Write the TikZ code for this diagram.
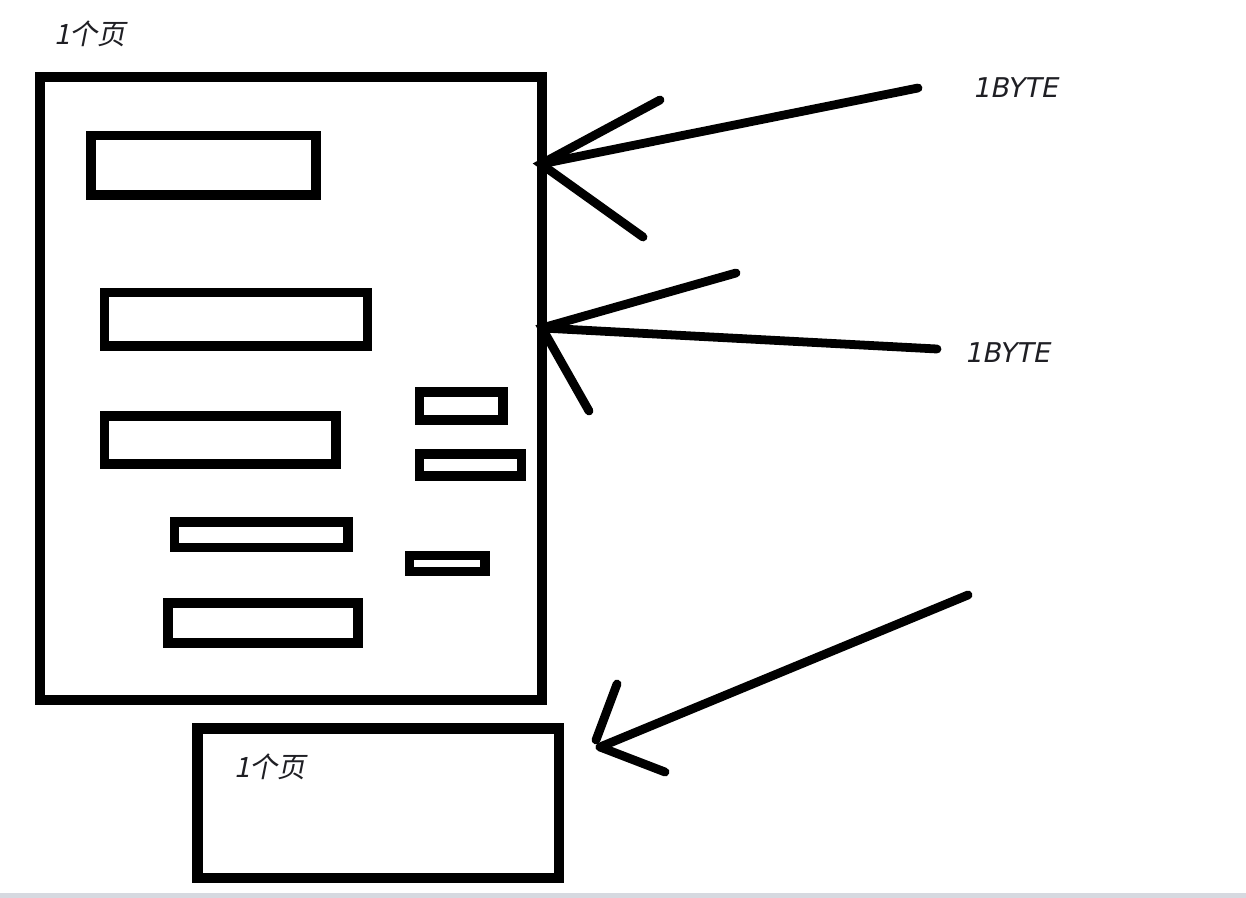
\documentclass[tikz,border=0pt]{standalone}
\usepackage{fontspec}
\newfontfamily\cjkfont[FakeSlant=0.2]{Noto Sans CJK SC}
\newfontfamily\latfont[FakeSlant=0.2]{DejaVu Sans}
\definecolor{inkc}{rgb}{0,0,0}
\definecolor{textc}{rgb}{0.12,0.12,0.14}
\definecolor{barc}{rgb}{0.84,0.85,0.88}
\begin{document}
\begin{tikzpicture}[x=0.02cm,y=-0.02cm,
  pagebox/.style={draw=inkc,line width=6pt,line join=miter},
  blockbox/.style={draw=inkc,line width=5.4pt,line join=miter},
  stroke/.style={draw=inkc,line width=5pt,line cap=round},
  pagelabel/.style={font=\cjkfont\fontsize{16}{18}\selectfont,text=textc,inner sep=0pt},
  bytelabel/.style={font=\latfont\fontsize{15.5}{18}\selectfont,text=textc,inner sep=0pt}]
\useasboundingbox (0,0) rectangle (1246,898);
\fill[white] (0,0) rectangle (1246,898);
\fill[barc] (0,893) rectangle (1246,898);
% labels
\node[pagelabel] (toplabel) at (90,34) {1个页};
\node[bytelabel] (byte1) at (1015,88) {1BYTE};
\node[bytelabel] (byte2) at (1007,353) {1BYTE};
% big page
\draw[pagebox] (40,77) rectangle (542,700);
% blocks
\draw[blockbox] (91,135.5) rectangle (316,195);
\draw[blockbox] (104.5,292.5) rectangle (367.5,346);
\draw[blockbox] (104.5,416) rectangle (336,464);
\draw[blockbox] (174.5,522) rectangle (348,547.5);
\draw[blockbox] (168,603) rectangle (358,643);
\draw[blockbox] (419.5,392) rectangle (503,420);
\draw[blockbox] (419.5,454) rectangle (521.5,476);
\draw[blockbox] (409.5,555.5) rectangle (485,571.5);
% second page
\draw[pagebox] (197.5,728.5) rectangle (559,878);
\node[pagelabel] (botlabel) at (270,767) {1个页};
% arrow 1
\coordinate (t1) at (541,164);
\coordinate (e1) at (918,88);
\coordinate (u1) at (660,100);
\coordinate (l1) at (643,237);
\draw[stroke] (e1) -- (t1);
\draw[stroke] (u1) -- (t1) -- (l1);
% arrow 2
\coordinate (t2) at (542,328);
\coordinate (e2) at (937,349);
\coordinate (u2) at (736,273);
\coordinate (l2) at (589,411);
\draw[stroke] (e2) -- (t2);
\draw[stroke] (u2) -- (t2) -- (l2);
% arrow 3
\coordinate (t3) at (600,747);
\coordinate (e3) at (968,595);
\coordinate (u3) at (617,684);
\coordinate (b3) at (596,740);
\coordinate (l3) at (665,772);
\draw[stroke] (e3) -- (t3);
\draw[stroke] (u3) -- (b3);
\draw[stroke] (t3) -- (l3);
\end{tikzpicture}
\end{document}
